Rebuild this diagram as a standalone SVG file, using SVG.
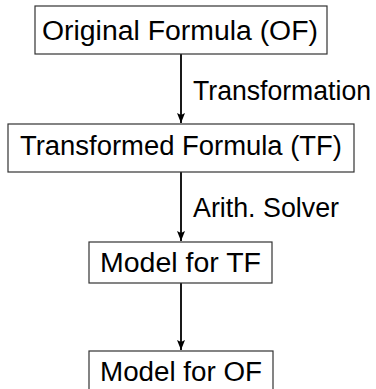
<svg xmlns="http://www.w3.org/2000/svg" width="376" height="389" viewBox="0 0 376 389">
<style>
.box{fill:#fff;stroke:#333;stroke-width:1.2}
.t{font-family:"Liberation Sans","DejaVu Sans",sans-serif;font-size:27px;fill:#000}
.edge{stroke:#000;stroke-width:1.8;fill:none;marker-end:url(#ah)}
</style>
<defs>
<marker id="ah" viewBox="0 0 10 10" refX="10" refY="5" markerWidth="10" markerHeight="10" markerUnits="userSpaceOnUse" orient="auto">
<path d="M0,1 L10,5 L0,9 L2,5 Z" fill="#000"/>
</marker>
</defs>
<rect width="376" height="389" fill="#fff"/>
<g id="connectors">
<line class="edge" x1="181" y1="54" x2="181" y2="123"/>
<line class="edge" x1="181" y1="172" x2="181" y2="241"/>
<line class="edge" x1="181" y1="283" x2="181" y2="350"/>
<text class="t" x="193" y="100" textLength="178" lengthAdjust="spacingAndGlyphs">Transformation</text>
<text class="t" x="193" y="217" textLength="146" lengthAdjust="spacingAndGlyphs">Arith. Solver</text>
</g>
<g id="of">
<rect class="box" x="35" y="6" width="292" height="48"/>
<text class="t" x="42" y="40" textLength="276" lengthAdjust="spacingAndGlyphs">Original Formula (OF)</text>
</g>
<g id="tf">
<rect class="box" x="8" y="124" width="346" height="48"/>
<text class="t" x="20" y="155" textLength="322" lengthAdjust="spacingAndGlyphs">Transformed Formula (TF)</text>
</g>
<g id="model-tf">
<rect class="box" x="89" y="242" width="183" height="41"/>
<text class="t" x="100" y="272" textLength="161" lengthAdjust="spacingAndGlyphs">Model for TF</text>
</g>
<g id="model-of">
<rect class="box" x="89" y="351" width="184" height="45"/>
<text class="t" x="100" y="381" textLength="162" lengthAdjust="spacingAndGlyphs">Model for OF</text>
</g>
</svg>
